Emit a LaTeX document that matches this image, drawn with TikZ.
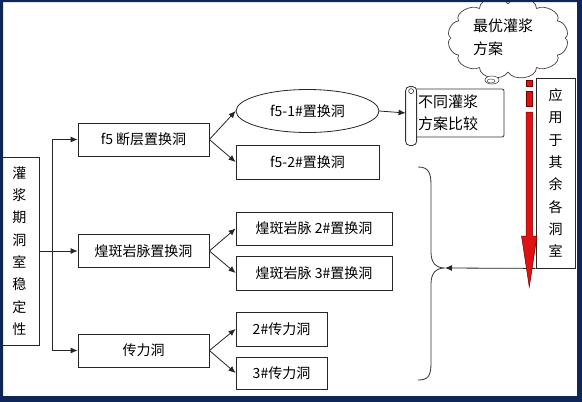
\documentclass[tikz,border=0pt]{standalone}
\usepackage{fontspec}
\setmainfont{Noto Sans CJK SC}
\usepackage{tikz}
\usetikzlibrary{positioning, shapes.geometric, arrows.meta}

\definecolor{framenavy}{RGB}{14,38,88}
\definecolor{arrowred}{RGB}{222,18,18}

\begin{document}
\begin{tikzpicture}[
    x=1pt, y=-1pt,
    font=\fontsize{14}{22}\selectfont,
    rbox/.style={draw=black!85, line width=0.8pt, minimum height=33pt, inner sep=2pt},
    tallbox/.style={draw=black!85, line width=0.8pt, minimum width=39pt, align=center,
        font=\fontsize{14}{22.3}\selectfont},
    link/.style={-{Latex[length=7pt, width=6pt]}, line width=0.8pt, black!85},
    puff/.style={black!75, line width=0.7pt}
]

% Dimensions
\def\trunk{52}
\def\midrow{251}

\useasboundingbox (0,0) rectangle (582,402);
\fill[white] (0,0) rectangle (582,402);

% Root and first level
\node[tallbox, minimum height=188pt] (stab) at (19.5,\midrow) {灌\\浆\\期\\洞\\室\\稳\\定\\性};
\node[rbox, minimum width=131pt] (fault) at (143.5,139.5) {f5 断层置换洞};
\node[rbox, minimum width=131pt] (dyke) at (143.5,\midrow) {煌斑岩脉置换洞};
\node[rbox, minimum width=131pt] (tunnel) at (143.5,350.5) {传力洞};

% Second level
\node[ellipse, draw=black!85, line width=0.8pt, minimum width=143pt, minimum height=43pt] (f51) at (307.5,111) {f5-1\#置换洞};
\node[rbox, minimum width=143pt, minimum height=34pt] (f52) at (307.5,162) {f5-2\#置换洞};
\node[rbox, minimum width=156pt] (dyke2) at (314,228.5) {煌斑岩脉 2\#置换洞};
\node[rbox, minimum width=156pt, minimum height=34pt] (dyke3) at (314,273) {煌斑岩脉 3\#置换洞};
\node[rbox, minimum width=91pt, minimum height=34pt] (tunnel2) at (281.5,329) {2\#传力洞};
\node[rbox, minimum width=91pt, minimum height=32pt] (tunnel3) at (281.5,373) {3\#传力洞};

% Trunk
\coordinate (split) at (\trunk,\midrow);
\draw[line width=0.8pt, black!85] (stab.east) -- (split);
\draw[line width=0.8pt, black!85] (split |- fault.west) -- (split |- tunnel.west);
\foreach \n in {fault, dyke, tunnel} {
    \draw[link] (split |- \n.west) -- (\n.west);
}
\foreach \a/\b in {fault/f51, fault/f52, dyke/dyke2, dyke/dyke3, tunnel/tunnel2, tunnel/tunnel3} {
    \draw[link] (\a.east) -- (\b.west);
}

% Scroll
\node[draw=black!80, line width=0.8pt, rounded corners=2pt, minimum width=92pt, minimum height=48pt,
    align=left, text width=80pt, font=\fontsize{15}{22}\selectfont] (compare) at (458,113) {不同灌浆\\方案比较};
\draw[black!80, line width=0.8pt, fill=white, rounded corners=4pt]
    ([xshift=-6pt, yshift=2pt]compare.north west) rectangle ([xshift=5pt, yshift=-8pt]compare.south west);
\draw[black!80, line width=0.6pt] ([xshift=-0.5pt, yshift=-2.5pt]compare.north west) circle (2.5pt);
\draw[link] (f51.east) -- ([xshift=-6pt]compare.west);

% Cloud, one puff per 30 degrees
\fill[white] (508,38) ellipse (58pt and 35pt);
\foreach \a in {0,30,...,330} {
    \pgfmathsetmacro\xa{508+57*cos(\a)}
    \pgfmathsetmacro\ya{38+34*sin(\a)}
    \pgfmathsetmacro\xb{508+57*cos(\a+30)}
    \pgfmathsetmacro\yb{38+34*sin(\a+30)}
    \pgfmathsetmacro\o{-\a-30}
    \pgfmathsetmacro\i{-\a}
    \draw[puff] (\xa,\ya) to[out=\o, in=\i] (\xb,\yb);
}
\node[align=left, font=\fontsize{15}{23}\selectfont] (best) at (503,37) {最优灌浆\\方案};
\draw[black!70, line width=0.6pt, fill=white] (492,80) ellipse (7pt and 4pt);
\draw[black!70, line width=0.5pt] (491,81) ellipse (4pt and 2pt);

% Apply box and brace
\node[tallbox, minimum height=190pt] (apply) at (555.5,173) {应\\用\\于\\其\\余\\各\\洞\\室};
\coordinate (brace) at (445,268);
\draw[black!80, line width=0.8pt] (418,167) .. controls (428,167) and (431,172) .. (431,185) -- (431,252)
    .. controls (431,263) and (436,268) .. (brace)
    .. controls (436,268) and (431,273) .. (431,284) -- (431,363)
    .. controls (431,376) and (428,380) .. (418,380);
\draw[link] (apply.south west) -- (brace);

% Red arrow
\foreach \a/\b in {80/86, 91/106} {
    \filldraw[fill=arrowred, draw=red!45!black, line width=0.5pt] (526,\a) rectangle (532.5,\b);
}
\filldraw[fill=arrowred, draw=red!45!black, line width=0.5pt]
    (526,112) -- (532.5,112) -- (532.5,236) -- (537,236) -- (529.3,287) -- (521.5,236) -- (526,236) -- cycle;

% Frame
\fill[framenavy, even odd rule] (0,0) rectangle (582,402) (3,2) rectangle (577,396);

\end{tikzpicture}
\end{document}
